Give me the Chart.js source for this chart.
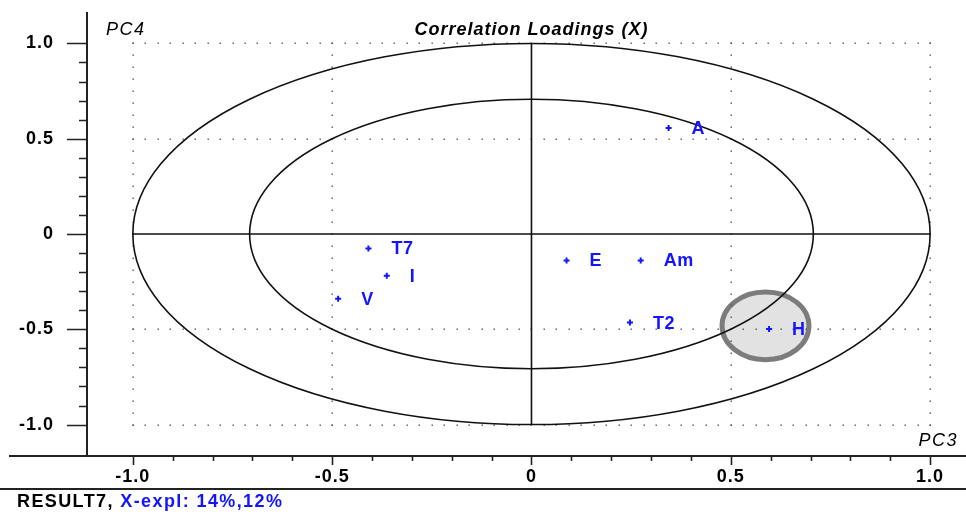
<!DOCTYPE html>
<html>
<head>
<meta charset="utf-8">
<script src="https://cdn.jsdelivr.net/npm/chart.js@4.4.1/dist/chart.umd.min.js"></script>
<style>
  html, body { margin: 0; padding: 0; background: #fff; }
  canvas { display: block; }
</style>
</head>
<body>
<canvas id="c" width="966" height="514"></canvas>
<script>
// Correlation loadings of the X variables on PC3 / PC4
const variables = ['A', 'T7', 'I', 'V', 'E', 'Am', 'T2', 'H'];
const pc3 = [0.344, -0.409, -0.363, -0.485, 0.088, 0.274, 0.247, 0.596];
const pc4 = [0.556, -0.076, -0.219, -0.340, -0.139, -0.139, -0.465, -0.499];

const xTicks = [-1.0, -0.5, 0, 0.5, 1.0];
const yTicks = [-1.0, -0.5, 0, 0.5, 1.0];
const circleRadii = [1.0, Math.SQRT1_2];           // 100% and 50% explained variance
const highlight = { x: 0.587, y: -0.482, rx: 0.109, ry: 0.178 };

const chartTitle = 'Correlation Loadings (X)';
const xAxisName = 'PC3';
const yAxisName = 'PC4';
const footerName = 'RESULT7, ';
const footerExpl = 'X-expl: 14%,12%';

const FONT = '"Liberation Sans", Arial, Helvetica, sans-serif';
const BLUE = '#1414ff';

const fmt = v => (v === 0 ? '0' : v.toFixed(1));

const loadingsPlot = {
  id: 'loadingsPlot',
  beforeDraw(chart) {
    chart.ctx.letterSpacing = '1px';
  },
  beforeDatasetsDraw(chart) {
    const { ctx, scales: { x, y } } = chart;
    const px = v => x.getPixelForValue(v);
    const py = v => y.getPixelForValue(v);
    ctx.save();
    ctx.letterSpacing = '0px';

    // shaded marker ellipse
    ctx.beginPath();
    ctx.ellipse(px(highlight.x), py(highlight.y),
      px(highlight.x + highlight.rx) - px(highlight.x),
      py(highlight.y - highlight.ry) - py(highlight.y), 0, 0, Math.PI * 2);
    ctx.fillStyle = '#e2e2e2';
    ctx.fill();
    ctx.lineWidth = 5;
    ctx.strokeStyle = '#7c7c7c';
    ctx.stroke();

    // dotted reference lines
    ctx.fillStyle = '#555';
    const x0 = px(-1), x1 = px(1), y0 = py(1), y1 = py(-1);
    [-1, -0.5, 0.5, 1].forEach(v => {
      const yy = Math.round(py(v));
      const n = Math.round((x1 - x0) / 12.45);
      for (let i = 0; i <= n; i++) ctx.fillRect(Math.round(x0 + (x1 - x0) * i / n) - 0.5, yy - 0.5, 1.4, 1.4);
      const xx = Math.round(px(v));
      const m = Math.round((y1 - y0) / 12);
      for (let i = 0; i <= m; i++) ctx.fillRect(xx - 0.5, Math.round(y0 + (y1 - y0) * i / m) - 0.5, 1.4, 1.4);
    });

    // axes through the origin
    ctx.strokeStyle = '#111';
    ctx.lineWidth = 1.6;
    ctx.beginPath();
    ctx.moveTo(x0, py(0)); ctx.lineTo(x1, py(0));
    ctx.moveTo(px(0), y0); ctx.lineTo(px(0), y1);
    ctx.stroke();

    // correlation ellipses
    circleRadii.forEach(r => {
      ctx.beginPath();
      ctx.ellipse(px(0), py(0), px(r) - px(0), py(0) - py(r), 0, 0, Math.PI * 2);
      ctx.stroke();
    });

    // frame axes and tick marks
    const ca = chart.chartArea;
    ctx.strokeStyle = '#222';
    ctx.lineWidth = 2;
    ctx.beginPath();
    ctx.moveTo(9, ca.bottom); ctx.lineTo(966, ca.bottom);
    ctx.moveTo(ca.left, ca.top); ctx.lineTo(ca.left, ca.bottom);
    ctx.stroke();
    ctx.lineWidth = 1.6;
    ctx.beginPath();
    for (let k = -10; k <= 10; k++) {
      const major = k % 5 === 0;
      const xx = Math.round(px(k / 10)) + 0.5;
      ctx.moveTo(xx, ca.bottom); ctx.lineTo(xx, ca.bottom + (major ? 9 : 5));
      const yy = Math.round(py(k / 10)) + 0.5;
      ctx.moveTo(ca.left, yy); ctx.lineTo(ca.left - (major ? 20 : 8), yy);
    }
    ctx.stroke();
    ctx.restore();
  },
  afterDatasetsDraw(chart) {
    const { ctx } = chart;
    const meta = chart.getDatasetMeta(0);
    ctx.save();
    ctx.letterSpacing = '0.5px';
    ctx.font = 'bold 18px ' + FONT;
    ctx.fillStyle = BLUE;
    ctx.textAlign = 'left';
    ctx.textBaseline = 'middle';
    meta.data.forEach((pt, i) => {
      ctx.fillText(variables[i], pt.x + 23, pt.y + 1);
    });
    ctx.restore();
  },
  afterDraw(chart) {
    const { ctx, scales: { x } } = chart;
    ctx.save();
    ctx.textBaseline = 'middle';
    ctx.fillStyle = '#000';

    ctx.letterSpacing = '1px';
    ctx.font = 'italic bold 18px ' + FONT;
    ctx.textAlign = 'center';
    ctx.fillText(chartTitle, x.getPixelForValue(0), 30);

    ctx.font = 'italic 18px ' + FONT;
    ctx.letterSpacing = '1.5px';
    ctx.textAlign = 'left';
    ctx.fillText(yAxisName, 106, 30);
    ctx.textAlign = 'right';
    ctx.fillText(xAxisName, 958, 441);

    // footer
    ctx.strokeStyle = '#222';
    ctx.lineWidth = 2;
    ctx.beginPath();
    ctx.moveTo(0, 489); ctx.lineTo(966, 489);
    ctx.stroke();
    ctx.font = 'bold 18px ' + FONT;
    ctx.letterSpacing = '1.4px';
    ctx.textAlign = 'left';
    ctx.fillText(footerName, 17, 502);
    const w = ctx.measureText(footerName).width;
    ctx.fillStyle = BLUE;
    ctx.fillText(footerExpl, 17 + w, 502);
    ctx.restore();
  }
};

const tickFont = { family: FONT, size: 18, weight: 'bold' };

new Chart(document.getElementById('c'), {
  type: 'scatter',
  data: {
    datasets: [{
      data: pc3.map((v, i) => ({ x: v, y: pc4[i] })),
      pointStyle: 'cross',
      radius: 3,
      borderWidth: 2,
      borderColor: BLUE,
      backgroundColor: BLUE
    }]
  },
  options: {
    responsive: false,
    animation: false,
    devicePixelRatio: 1,
    layout: { autoPadding: false, padding: { top: 12, right: 0, bottom: 28, left: 0 } },
    plugins: { legend: { display: false }, tooltip: { enabled: false } },
    scales: {
      x: {
        type: 'linear',
        min: -1.115, max: 1.09,
        grid: { display: false, drawTicks: false },
        border: { display: false },
        ticks: { font: tickFont, color: '#000', padding: 10, autoSkip: false, maxRotation: 0, callback: fmt },
        afterBuildTicks: s => { s.ticks = xTicks.map(v => ({ value: v })); },
        afterFit: s => { s.height = 30; s.paddingLeft = 0; s.paddingRight = 0; }
      },
      y: {
        type: 'linear',
        min: -1.165, max: 1.165,
        grid: { display: false, drawTicks: false },
        border: { display: false },
        ticks: { font: tickFont, color: '#000', padding: 33, autoSkip: false, callback: fmt },
        afterBuildTicks: s => { s.ticks = yTicks.map(v => ({ value: v })); },
        afterFit: s => { s.width = 87; s.paddingTop = 0; s.paddingBottom = 0; }
      }
    }
  },
  plugins: [loadingsPlot]
});
</script>
</body>
</html>
